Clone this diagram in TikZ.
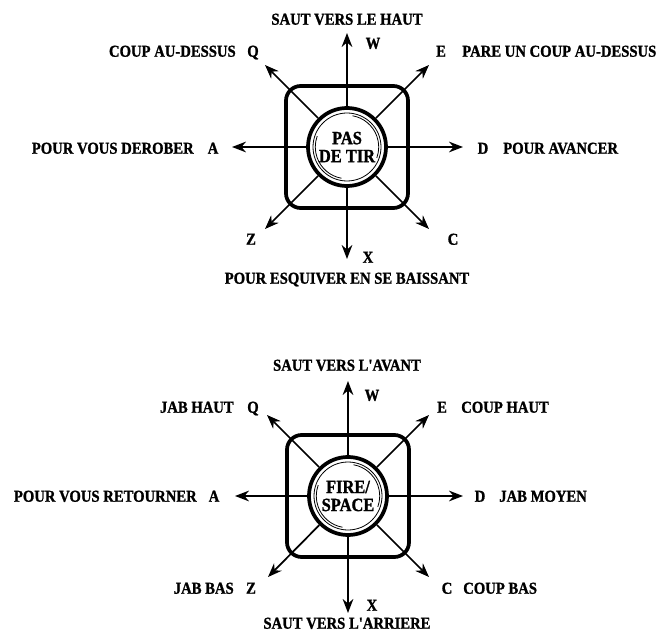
\documentclass[tikz,border=0pt]{standalone}
\usepackage{fontspec}
\setmainfont{Liberation Serif}
\newfontfamily\keyfont[FakeStretch=0.88,FakeBold=1.2]{Liberation Serif}
\usetikzlibrary{arrows.meta}

\begin{document}
\begin{tikzpicture}[x=0.75pt,y=0.75pt,yscale=-1,xscale=1,
    lbl/.style={inner sep=0pt, font=\keyfont\fontsize{12.5}{13}\selectfont\bfseries, text height=8.6pt, text depth=0pt},
    dir/.style={line width=1.3pt, -{Stealth[length=10.5pt,width=8pt]}},
    pad/.style={line width=2.8pt, rounded corners=11pt},
    btn/.style={circle, draw, line width=2.8pt, fill=white, minimum size=58.5pt, inner sep=0pt, align=center,
                font=\keyfont\fontsize{14}{13.5}\selectfont\bfseries},
    ring/.style={line width=0.6pt}]
    \useasboundingbox (0,0) rectangle (667,634);

    %%%% upper joystick
    % Button
    \node [btn] (bt1) at (347,147) {PAS\\DE TIR};
    \draw [ring] (bt1.center) circle [radius=25.5pt];
    \draw [ring] ([shift={(100:23.8pt)}]bt1.center) arc [start angle=100, end angle=200, radius=23.8pt];
    \draw [ring] ([shift={(-80:23.8pt)}]bt1.center) arc [start angle=-80, end angle=20, radius=23.8pt];
    % Pad
    \draw [pad] ([shift={(-61,-61)}]bt1.center) rectangle ([shift={(61,61)}]bt1.center);
    % Arrow ends
    \coordinate (w1) at (347,33);
    \coordinate (x1) at (347,259);
    \coordinate (a1) at (232,147);
    \coordinate (d1) at (463,147);
    \coordinate (q1) at (265,65);
    \coordinate (e1) at (429,65);
    \coordinate (z1) at (265,229);
    \coordinate (c1) at (429,229);
    % Arrows
    \foreach \t in {w1,x1,a1,d1,q1,e1,z1,c1}
      \draw [dir] (bt1) -- (\t);
    % Text Node
    \node [lbl] (t1) at (347,19) {SAUT VERS LE HAUT};
    \node [lbl] (kw1) at (373,43) {W};
    \node [lbl] (kq1) at (253,51) {Q};
    \node [lbl, anchor=east] (tq1) at (236,51) {COUP AU-DESSUS};
    \node [lbl] (ke1) at (441,51) {E};
    \node [lbl, anchor=west] (te1) at (462,51) {PARE UN COUP AU-DESSUS};
    \node [lbl] (ka1) at (213,148) {A};
    \node [lbl, anchor=east] (ta1) at (194,148) {POUR VOUS DEROBER};
    \node [lbl] (kd1) at (483,148) {D};
    \node [lbl, anchor=west] (td1) at (503,148) {POUR AVANCER};
    \node [lbl] (kz1) at (251,239) {Z};
    \node [lbl] (kc1) at (453,239) {C};
    \node [lbl] (kx1) at (368,257) {X};
    \node [lbl] (tx1) at (347,278) {POUR ESQUIVER EN SE BAISSANT};

    %%%% lower joystick
    % Button
    \node [btn] (bt2) at (348,496) {FIRE/\\SPACE};
    \draw [ring] (bt2.center) circle [radius=25.5pt];
    \draw [ring] ([shift={(100:23.8pt)}]bt2.center) arc [start angle=100, end angle=200, radius=23.8pt];
    \draw [ring] ([shift={(-80:23.8pt)}]bt2.center) arc [start angle=-80, end angle=20, radius=23.8pt];
    % Pad
    \draw [pad] ([shift={(-61,-61)}]bt2.center) rectangle ([shift={(61,61)}]bt2.center);
    % Arrow ends
    \coordinate (w2) at (348,381);
    \coordinate (x2) at (348,613);
    \coordinate (a2) at (235,496);
    \coordinate (d2) at (463,496);
    \coordinate (q2) at (267,415);
    \coordinate (e2) at (429,415);
    \coordinate (z2) at (268,577);
    \coordinate (c2) at (429,577);
    % Arrows
    \foreach \t in {w2,x2,a2,d2,q2,e2,z2,c2}
      \draw [dir] (bt2) -- (\t);
    % Text Node
    \node [lbl] (t2) at (347,365) {SAUT VERS L'AVANT};
    \node [lbl] (kw2) at (372,395) {W};
    \node [lbl] (kq2) at (253,407) {Q};
    \node [lbl, anchor=east] (tq2) at (234,407) {JAB HAUT};
    \node [lbl] (ke2) at (442,407) {E};
    \node [lbl, anchor=west] (te2) at (461,407) {COUP HAUT};
    \node [lbl] (ka2) at (214,496) {A};
    \node [lbl, anchor=east] (ta2) at (197,496) {POUR VOUS RETOURNER};
    \node [lbl] (kd2) at (480,496) {D};
    \node [lbl, anchor=west] (td2) at (499,496) {JAB MOYEN};
    \node [lbl] (kz2) at (251,588) {Z};
    \node [lbl, anchor=east] (tz2) at (234,588) {JAB BAS};
    \node [lbl] (kc2) at (447,588) {C};
    \node [lbl, anchor=west] (tc2) at (463,588) {COUP BAS};
    \node [lbl] (kx2) at (372,605) {X};
    \node [lbl] (tx2) at (347,623) {SAUT VERS L'ARRIERE};
\end{tikzpicture}
\end{document}
